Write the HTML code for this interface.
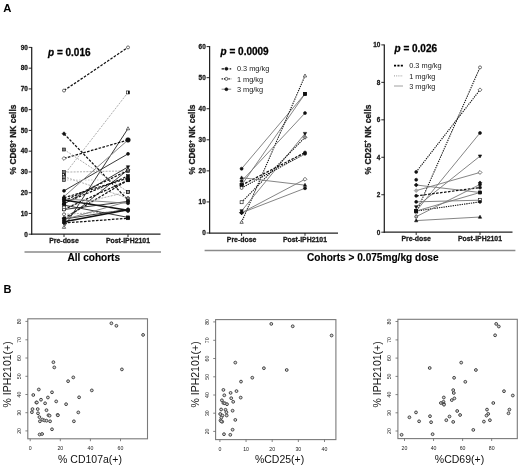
<!DOCTYPE html>
<html><head><meta charset="utf-8"><style>
html,body{margin:0;padding:0;background:#fff;}
svg{display:block;font-family:"Liberation Sans", sans-serif;filter:grayscale(1);}
text.b{stroke:#111;stroke-width:0.28;paint-order:stroke;}
text.b2{stroke:#111;stroke-width:0.15;paint-order:stroke;}
</style></head><body>
<svg width="520" height="471" viewBox="0 0 520 471">
<rect width="520" height="471" fill="#fff"/>
<text transform="translate(3.2,12.3) scale(1.0,1)" font-size="11.3" font-weight="bold" fill="#000">A</text>
<text transform="translate(3.4,293.2) scale(1.05,1)" font-size="10.5" font-weight="bold" fill="#000">B</text>
<line x1="31.70" y1="46.90" x2="31.70" y2="234.70" stroke="#222" stroke-width="1.25" />
<line x1="31.20" y1="234.20" x2="160.50" y2="234.20" stroke="#222" stroke-width="1.25" />
<line x1="28.70" y1="234.20" x2="31.70" y2="234.20" stroke="#111" stroke-width="0.9" />
<text x="27.80" y="236.50" font-size="6.4" font-weight="bold" font-style="normal" text-anchor="end" fill="#1a1a1a"  class="b">0</text>
<line x1="28.70" y1="213.44" x2="31.70" y2="213.44" stroke="#111" stroke-width="0.9" />
<text x="27.80" y="215.74" font-size="6.4" font-weight="bold" font-style="normal" text-anchor="end" fill="#1a1a1a"  class="b">10</text>
<line x1="28.70" y1="192.69" x2="31.70" y2="192.69" stroke="#111" stroke-width="0.9" />
<text x="27.80" y="194.99" font-size="6.4" font-weight="bold" font-style="normal" text-anchor="end" fill="#1a1a1a"  class="b">20</text>
<line x1="28.70" y1="171.93" x2="31.70" y2="171.93" stroke="#111" stroke-width="0.9" />
<text x="27.80" y="174.23" font-size="6.4" font-weight="bold" font-style="normal" text-anchor="end" fill="#1a1a1a"  class="b">30</text>
<line x1="28.70" y1="151.18" x2="31.70" y2="151.18" stroke="#111" stroke-width="0.9" />
<text x="27.80" y="153.48" font-size="6.4" font-weight="bold" font-style="normal" text-anchor="end" fill="#1a1a1a"  class="b">40</text>
<line x1="28.70" y1="130.42" x2="31.70" y2="130.42" stroke="#111" stroke-width="0.9" />
<text x="27.80" y="132.72" font-size="6.4" font-weight="bold" font-style="normal" text-anchor="end" fill="#1a1a1a"  class="b">50</text>
<line x1="28.70" y1="109.67" x2="31.70" y2="109.67" stroke="#111" stroke-width="0.9" />
<text x="27.80" y="111.97" font-size="6.4" font-weight="bold" font-style="normal" text-anchor="end" fill="#1a1a1a"  class="b">60</text>
<line x1="28.70" y1="88.91" x2="31.70" y2="88.91" stroke="#111" stroke-width="0.9" />
<text x="27.80" y="91.21" font-size="6.4" font-weight="bold" font-style="normal" text-anchor="end" fill="#1a1a1a"  class="b">70</text>
<line x1="28.70" y1="68.16" x2="31.70" y2="68.16" stroke="#111" stroke-width="0.9" />
<text x="27.80" y="70.46" font-size="6.4" font-weight="bold" font-style="normal" text-anchor="end" fill="#1a1a1a"  class="b">80</text>
<line x1="28.70" y1="47.40" x2="31.70" y2="47.40" stroke="#111" stroke-width="0.9" />
<text x="27.80" y="49.70" font-size="6.4" font-weight="bold" font-style="normal" text-anchor="end" fill="#1a1a1a"  class="b">90</text>
<line x1="64.00" y1="234.20" x2="64.00" y2="237.00" stroke="#111" stroke-width="0.9" />
<line x1="128.00" y1="234.20" x2="128.00" y2="237.00" stroke="#111" stroke-width="0.9" />
<text x="64.00" y="243.45" font-size="6.9" font-weight="bold" font-style="normal" text-anchor="middle" fill="#1a1a1a"  class="b">Pre-dose</text>
<text x="128.00" y="243.45" font-size="6.9" font-weight="bold" font-style="normal" text-anchor="middle" fill="#1a1a1a"  class="b">Post-IPH2101</text>
<text transform="translate(16.40,139.5) rotate(-90) scale(0.955,1)" class="b" font-size="8.8" font-weight="bold" text-anchor="middle" fill="#1a1a1a">% CD69<tspan font-size="5.6" dy="-3.2">+</tspan><tspan dy="3.2"> NK cells</tspan></text>
<text x="48.00" y="55.60" class="b" font-size="10" font-weight="bold" fill="#000"><tspan font-style="italic">p</tspan> = 0.016</text>
<line x1="209.60" y1="46.10" x2="209.60" y2="233.50" stroke="#222" stroke-width="1.25" />
<line x1="209.10" y1="233.00" x2="338.00" y2="233.00" stroke="#222" stroke-width="1.25" />
<line x1="206.60" y1="233.00" x2="209.60" y2="233.00" stroke="#111" stroke-width="0.9" />
<text x="205.70" y="235.30" font-size="6.4" font-weight="bold" font-style="normal" text-anchor="end" fill="#1a1a1a"  class="b">0</text>
<line x1="206.60" y1="201.93" x2="209.60" y2="201.93" stroke="#111" stroke-width="0.9" />
<text x="205.70" y="204.23" font-size="6.4" font-weight="bold" font-style="normal" text-anchor="end" fill="#1a1a1a"  class="b">10</text>
<line x1="206.60" y1="170.87" x2="209.60" y2="170.87" stroke="#111" stroke-width="0.9" />
<text x="205.70" y="173.17" font-size="6.4" font-weight="bold" font-style="normal" text-anchor="end" fill="#1a1a1a"  class="b">20</text>
<line x1="206.60" y1="139.80" x2="209.60" y2="139.80" stroke="#111" stroke-width="0.9" />
<text x="205.70" y="142.10" font-size="6.4" font-weight="bold" font-style="normal" text-anchor="end" fill="#1a1a1a"  class="b">30</text>
<line x1="206.60" y1="108.73" x2="209.60" y2="108.73" stroke="#111" stroke-width="0.9" />
<text x="205.70" y="111.03" font-size="6.4" font-weight="bold" font-style="normal" text-anchor="end" fill="#1a1a1a"  class="b">40</text>
<line x1="206.60" y1="77.67" x2="209.60" y2="77.67" stroke="#111" stroke-width="0.9" />
<text x="205.70" y="79.97" font-size="6.4" font-weight="bold" font-style="normal" text-anchor="end" fill="#1a1a1a"  class="b">50</text>
<line x1="206.60" y1="46.60" x2="209.60" y2="46.60" stroke="#111" stroke-width="0.9" />
<text x="205.70" y="48.90" font-size="6.4" font-weight="bold" font-style="normal" text-anchor="end" fill="#1a1a1a"  class="b">60</text>
<line x1="241.60" y1="233.00" x2="241.60" y2="235.80" stroke="#111" stroke-width="0.9" />
<line x1="305.00" y1="233.00" x2="305.00" y2="235.80" stroke="#111" stroke-width="0.9" />
<text x="241.60" y="242.25" font-size="6.9" font-weight="bold" font-style="normal" text-anchor="middle" fill="#1a1a1a"  class="b">Pre-dose</text>
<text x="305.00" y="242.25" font-size="6.9" font-weight="bold" font-style="normal" text-anchor="middle" fill="#1a1a1a"  class="b">Post-IPH2101</text>
<text transform="translate(195.30,139.5) rotate(-90) scale(0.955,1)" class="b" font-size="8.8" font-weight="bold" text-anchor="middle" fill="#1a1a1a">% CD69<tspan font-size="5.6" dy="-3.2">+</tspan><tspan dy="3.2"> NK cells</tspan></text>
<text x="220.60" y="54.60" class="b" font-size="10" font-weight="bold" fill="#000"><tspan font-style="italic">p</tspan> = 0.0009</text>
<line x1="384.30" y1="44.40" x2="384.30" y2="232.70" stroke="#222" stroke-width="1.25" />
<line x1="383.80" y1="232.20" x2="512.50" y2="232.20" stroke="#222" stroke-width="1.25" />
<line x1="381.30" y1="232.20" x2="384.30" y2="232.20" stroke="#111" stroke-width="0.9" />
<text x="380.40" y="234.50" font-size="6.4" font-weight="bold" font-style="normal" text-anchor="end" fill="#1a1a1a"  class="b">0</text>
<line x1="381.30" y1="194.74" x2="384.30" y2="194.74" stroke="#111" stroke-width="0.9" />
<text x="380.40" y="197.04" font-size="6.4" font-weight="bold" font-style="normal" text-anchor="end" fill="#1a1a1a"  class="b">2</text>
<line x1="381.30" y1="157.28" x2="384.30" y2="157.28" stroke="#111" stroke-width="0.9" />
<text x="380.40" y="159.58" font-size="6.4" font-weight="bold" font-style="normal" text-anchor="end" fill="#1a1a1a"  class="b">4</text>
<line x1="381.30" y1="119.82" x2="384.30" y2="119.82" stroke="#111" stroke-width="0.9" />
<text x="380.40" y="122.12" font-size="6.4" font-weight="bold" font-style="normal" text-anchor="end" fill="#1a1a1a"  class="b">6</text>
<line x1="381.30" y1="82.36" x2="384.30" y2="82.36" stroke="#111" stroke-width="0.9" />
<text x="380.40" y="84.66" font-size="6.4" font-weight="bold" font-style="normal" text-anchor="end" fill="#1a1a1a"  class="b">8</text>
<line x1="381.30" y1="44.90" x2="384.30" y2="44.90" stroke="#111" stroke-width="0.9" />
<text x="380.40" y="47.20" font-size="6.4" font-weight="bold" font-style="normal" text-anchor="end" fill="#1a1a1a"  class="b">10</text>
<line x1="416.20" y1="232.20" x2="416.20" y2="235.00" stroke="#111" stroke-width="0.9" />
<line x1="480.00" y1="232.20" x2="480.00" y2="235.00" stroke="#111" stroke-width="0.9" />
<text x="416.20" y="241.45" font-size="6.9" font-weight="bold" font-style="normal" text-anchor="middle" fill="#1a1a1a"  class="b">Pre-dose</text>
<text x="480.00" y="241.45" font-size="6.9" font-weight="bold" font-style="normal" text-anchor="middle" fill="#1a1a1a"  class="b">Post-IPH2101</text>
<text transform="translate(370.60,139.5) rotate(-90) scale(0.955,1)" class="b" font-size="8.8" font-weight="bold" text-anchor="middle" fill="#1a1a1a">% CD25<tspan font-size="5.6" dy="-3.2">+</tspan><tspan dy="3.2"> NK cells</tspan></text>
<text x="394.50" y="52.40" class="b" font-size="10" font-weight="bold" fill="#000"><tspan font-style="italic">p</tspan> = 0.026</text>
<line x1="24.50" y1="251.90" x2="161.00" y2="251.90" stroke="#8a8a8a" stroke-width="1.5" />
<text x="93.80" y="261.00" font-size="10.05" font-weight="bold" font-style="normal" text-anchor="middle" fill="#000" class="b2">All cohorts</text>
<line x1="204.60" y1="250.60" x2="515.40" y2="250.60" stroke="#8a8a8a" stroke-width="1.5" />
<text x="372.80" y="261.20" font-size="10.1" font-weight="bold" font-style="normal" text-anchor="middle" fill="#000" class="b2">Cohorts &gt; 0.075mg/kg dose</text>
<line x1="64.00" y1="90.57" x2="128.00" y2="47.40" stroke="#111" stroke-width="1.25" stroke-dasharray="2.6,1.4" />
<line x1="64.00" y1="175.05" x2="128.00" y2="92.44" stroke="#999" stroke-width="0.8" stroke-dasharray="2,1.2" />
<line x1="64.00" y1="227.14" x2="128.00" y2="128.55" stroke="#222" stroke-width="0.9" />
<line x1="64.00" y1="133.74" x2="128.00" y2="199.95" stroke="#111" stroke-width="1.25" stroke-dasharray="2.6,1.4" />
<line x1="64.00" y1="158.44" x2="128.00" y2="139.97" stroke="#111" stroke-width="1.25" stroke-dasharray="2.6,1.4" />
<line x1="64.00" y1="149.52" x2="128.00" y2="191.86" stroke="#999" stroke-width="0.8" stroke-dasharray="2,1.2" />
<line x1="64.00" y1="190.82" x2="128.00" y2="153.87" stroke="#222" stroke-width="0.9" />
<line x1="64.00" y1="196.63" x2="128.00" y2="139.97" stroke="#777" stroke-width="0.9" />
<line x1="64.00" y1="222.99" x2="128.00" y2="218.22" stroke="#111" stroke-width="1.25" stroke-dasharray="2.6,1.4" />
<line x1="64.00" y1="199.95" x2="128.00" y2="210.33" stroke="#111" stroke-width="1.6" />
<line x1="64.00" y1="200.99" x2="128.00" y2="170.48" stroke="#111" stroke-width="1.25" stroke-dasharray="2.6,1.4" />
<line x1="64.00" y1="203.07" x2="128.00" y2="176.08" stroke="#111" stroke-width="1.25" stroke-dasharray="2.6,1.4" />
<line x1="64.00" y1="209.50" x2="128.00" y2="201.41" stroke="#222" stroke-width="0.9" />
<line x1="64.00" y1="219.05" x2="128.00" y2="209.29" stroke="#222" stroke-width="0.9" />
<line x1="64.00" y1="172.14" x2="128.00" y2="170.89" stroke="#999" stroke-width="0.8" stroke-dasharray="2,1.2" />
<line x1="64.00" y1="176.71" x2="128.00" y2="198.08" stroke="#999" stroke-width="0.8" stroke-dasharray="2,1.2" />
<line x1="64.00" y1="204.10" x2="128.00" y2="166.95" stroke="#222" stroke-width="0.9" />
<line x1="64.00" y1="218.22" x2="128.00" y2="180.23" stroke="#111" stroke-width="1.25" stroke-dasharray="2.6,1.4" />
<line x1="64.00" y1="220.71" x2="128.00" y2="169.86" stroke="#222" stroke-width="0.9" />
<line x1="64.00" y1="209.29" x2="128.00" y2="180.23" stroke="#111" stroke-width="1.25" stroke-dasharray="2.6,1.4" />
<line x1="64.00" y1="198.91" x2="128.00" y2="203.27" stroke="#777" stroke-width="0.9" />
<line x1="64.00" y1="214.27" x2="128.00" y2="210.95" stroke="#999" stroke-width="0.8" stroke-dasharray="2,1.2" />
<line x1="64.00" y1="205.14" x2="128.00" y2="217.39" stroke="#222" stroke-width="0.9" />
<line x1="64.00" y1="219.67" x2="128.00" y2="201.41" stroke="#777" stroke-width="0.9" />
<line x1="64.00" y1="180.03" x2="128.00" y2="180.03" stroke="#bbb" stroke-width="0.7" stroke-dasharray="1.5,1.5" />
<line x1="64.00" y1="221.75" x2="128.00" y2="209.71" stroke="#111" stroke-width="1.6" />
<line x1="64.00" y1="197.88" x2="128.00" y2="178.16" stroke="#111" stroke-width="1.25" stroke-dasharray="2.6,1.4" />
<line x1="64.00" y1="207.22" x2="128.00" y2="191.86" stroke="#999" stroke-width="0.8" stroke-dasharray="2,1.2" />
<line x1="241.60" y1="168.69" x2="305.00" y2="93.81" stroke="#777" stroke-width="0.9" />
<line x1="241.60" y1="185.15" x2="305.00" y2="93.81" stroke="#777" stroke-width="0.9" />
<line x1="241.60" y1="222.13" x2="305.00" y2="75.79" stroke="#111" stroke-width="1.1" stroke-dasharray="1.3,1.0" />
<line x1="241.60" y1="181.11" x2="305.00" y2="113.07" stroke="#777" stroke-width="0.9" />
<line x1="241.60" y1="210.94" x2="305.00" y2="133.58" stroke="#777" stroke-width="0.9" />
<line x1="241.60" y1="202.24" x2="305.00" y2="137.30" stroke="#111" stroke-width="1.1" stroke-dasharray="1.3,1.0" />
<line x1="241.60" y1="185.15" x2="305.00" y2="152.53" stroke="#111" stroke-width="1.25" stroke-dasharray="2.6,1.4" />
<line x1="241.60" y1="187.95" x2="305.00" y2="153.77" stroke="#111" stroke-width="1.1" stroke-dasharray="1.3,1.0" />
<line x1="241.60" y1="177.70" x2="305.00" y2="185.15" stroke="#777" stroke-width="0.9" />
<line x1="241.60" y1="212.80" x2="305.00" y2="179.25" stroke="#777" stroke-width="0.9" />
<line x1="241.60" y1="212.80" x2="305.00" y2="188.26" stroke="#777" stroke-width="0.9" />
<line x1="416.20" y1="171.89" x2="480.00" y2="89.85" stroke="#111" stroke-width="1.1" stroke-dasharray="1.3,1.0" />
<line x1="416.20" y1="212.53" x2="480.00" y2="67.38" stroke="#111" stroke-width="1.1" stroke-dasharray="1.3,1.0" />
<line x1="416.20" y1="211.04" x2="480.00" y2="132.93" stroke="#777" stroke-width="0.9" />
<line x1="416.20" y1="206.91" x2="480.00" y2="156.16" stroke="#777" stroke-width="0.9" />
<line x1="416.20" y1="190.62" x2="480.00" y2="172.45" stroke="#777" stroke-width="0.9" />
<line x1="416.20" y1="185.00" x2="480.00" y2="192.49" stroke="#777" stroke-width="0.9" />
<line x1="416.20" y1="195.86" x2="480.00" y2="187.62" stroke="#111" stroke-width="1.25" stroke-dasharray="2.6,1.4" />
<line x1="416.20" y1="201.86" x2="480.00" y2="200.17" stroke="#777" stroke-width="0.9" />
<line x1="416.20" y1="211.04" x2="480.00" y2="201.86" stroke="#111" stroke-width="1.1" stroke-dasharray="1.3,1.0" />
<line x1="416.20" y1="220.59" x2="480.00" y2="217.03" stroke="#777" stroke-width="0.9" />
<line x1="416.20" y1="211.04" x2="480.00" y2="192.49" stroke="#777" stroke-width="0.9" />
<line x1="416.20" y1="216.65" x2="480.00" y2="184.44" stroke="#777" stroke-width="0.9" />
<circle cx="64.00" cy="90.57" r="1.50" fill="#fff" stroke="#111" stroke-width="0.6"/>
<circle cx="128.00" cy="47.40" r="1.50" fill="#fff" stroke="#111" stroke-width="0.6"/>
<rect x="62.50" y="173.55" width="3.00" height="3.00" fill="#fff" stroke="#111" stroke-width="0.6"/>
<rect x="64.00" y="173.55" width="1.50" height="3.00" fill="#111"/>
<rect x="126.50" y="90.94" width="3.00" height="3.00" fill="#fff" stroke="#111" stroke-width="0.6"/>
<rect x="128.00" y="90.94" width="1.50" height="3.00" fill="#111"/>
<path d="M64.00,225.34L65.65,228.34L62.35,228.34Z" fill="#fff" stroke="#111" stroke-width="0.6"/>
<path d="M128.00,126.75L129.65,129.75L126.35,129.75Z" fill="#fff" stroke="#111" stroke-width="0.6"/>
<path d="M64.00,131.79L65.95,133.74L64.00,135.69L62.05,133.74Z" fill="#111" stroke="#111" stroke-width="0.6"/>
<circle cx="128.00" cy="199.95" r="1.50" fill="#111" stroke="#111" stroke-width="0.6"/>
<path d="M64.00,156.49L65.95,158.44L64.00,160.39L62.05,158.44Z" fill="#fff" stroke="#111" stroke-width="0.6"/>
<circle cx="128.00" cy="139.97" r="1.50" fill="#111" stroke="#111" stroke-width="0.6"/>
<rect x="62.50" y="148.02" width="3.00" height="3.00" fill="#777" stroke="#111" stroke-width="0.6"/>
<rect x="126.50" y="190.36" width="3.00" height="3.00" fill="#999" stroke="#111" stroke-width="0.6"/>
<circle cx="64.00" cy="190.82" r="1.50" fill="#111" stroke="#111" stroke-width="0.6"/>
<circle cx="128.00" cy="153.87" r="1.50" fill="#111" stroke="#111" stroke-width="0.6"/>
<path d="M64.00,194.83L65.65,197.83L62.35,197.83Z" fill="#111" stroke="#111" stroke-width="0.6"/>
<circle cx="128.00" cy="139.97" r="1.50" fill="#111" stroke="#111" stroke-width="0.6"/>
<path d="M64.00,221.04L65.95,222.99L64.00,224.94L62.05,222.99Z" fill="#111" stroke="#111" stroke-width="0.6"/>
<rect x="126.50" y="216.72" width="3.00" height="3.00" fill="#111" stroke="#111" stroke-width="0.6"/>
<circle cx="64.00" cy="199.95" r="1.50" fill="#111" stroke="#111" stroke-width="0.6"/>
<circle cx="128.00" cy="210.33" r="1.50" fill="#111" stroke="#111" stroke-width="0.6"/>
<path d="M64.00,202.79L65.65,199.79L62.35,199.79Z" fill="#111" stroke="#111" stroke-width="0.6"/>
<path d="M128.00,172.28L129.65,169.28L126.35,169.28Z" fill="#111" stroke="#111" stroke-width="0.6"/>
<rect x="62.50" y="201.57" width="3.00" height="3.00" fill="#111" stroke="#111" stroke-width="0.6"/>
<rect x="126.50" y="174.58" width="3.00" height="3.00" fill="#111" stroke="#111" stroke-width="0.6"/>
<circle cx="64.00" cy="209.50" r="1.50" fill="#111" stroke="#111" stroke-width="0.6"/>
<circle cx="128.00" cy="201.41" r="1.50" fill="#111" stroke="#111" stroke-width="0.6"/>
<path d="M64.00,220.85L65.65,217.85L62.35,217.85Z" fill="#111" stroke="#111" stroke-width="0.6"/>
<circle cx="128.00" cy="209.29" r="1.50" fill="#111" stroke="#111" stroke-width="0.6"/>
<rect x="62.50" y="170.64" width="3.00" height="3.00" fill="#777" stroke="#111" stroke-width="0.6"/>
<rect x="126.50" y="169.39" width="3.00" height="3.00" fill="#777" stroke="#111" stroke-width="0.6"/>
<rect x="62.50" y="175.21" width="3.00" height="3.00" fill="#999" stroke="#111" stroke-width="0.6"/>
<circle cx="128.00" cy="198.08" r="1.50" fill="#999" stroke="#111" stroke-width="0.6"/>
<path d="M64.00,202.15L65.95,204.10L64.00,206.05L62.05,204.10Z" fill="#111" stroke="#111" stroke-width="0.6"/>
<path d="M128.00,168.75L129.65,165.75L126.35,165.75Z" fill="#111" stroke="#111" stroke-width="0.6"/>
<path d="M64.00,216.27L65.95,218.22L64.00,220.17L62.05,218.22Z" fill="#111" stroke="#111" stroke-width="0.6"/>
<rect x="126.50" y="178.73" width="3.00" height="3.00" fill="#111" stroke="#111" stroke-width="0.6"/>
<circle cx="64.00" cy="220.71" r="1.50" fill="#111" stroke="#111" stroke-width="0.6"/>
<path d="M128.00,167.91L129.95,169.86L128.00,171.81L126.05,169.86Z" fill="#777" stroke="#111" stroke-width="0.6"/>
<rect x="62.50" y="207.79" width="3.00" height="3.00" fill="#fff" stroke="#111" stroke-width="0.6"/>
<rect x="126.50" y="178.73" width="3.00" height="3.00" fill="#111" stroke="#111" stroke-width="0.6"/>
<circle cx="64.00" cy="198.91" r="1.50" fill="#111" stroke="#111" stroke-width="0.6"/>
<circle cx="128.00" cy="203.27" r="1.50" fill="#111" stroke="#111" stroke-width="0.6"/>
<circle cx="64.00" cy="214.27" r="1.50" fill="#fff" stroke="#111" stroke-width="0.6"/>
<circle cx="128.00" cy="210.95" r="1.50" fill="#111" stroke="#111" stroke-width="0.6"/>
<rect x="62.50" y="203.64" width="3.00" height="3.00" fill="#111" stroke="#111" stroke-width="0.6"/>
<rect x="126.50" y="215.89" width="3.00" height="3.00" fill="#111" stroke="#111" stroke-width="0.6"/>
<circle cx="64.00" cy="219.67" r="1.50" fill="#111" stroke="#111" stroke-width="0.6"/>
<circle cx="128.00" cy="201.41" r="1.50" fill="#111" stroke="#111" stroke-width="0.6"/>
<rect x="62.50" y="178.53" width="3.00" height="3.00" fill="#999" stroke="#111" stroke-width="0.6"/>
<circle cx="128.00" cy="180.03" r="1.50" fill="#111" stroke="#111" stroke-width="0.6"/>
<circle cx="64.00" cy="221.75" r="1.50" fill="#111" stroke="#111" stroke-width="0.6"/>
<circle cx="128.00" cy="209.71" r="1.50" fill="#111" stroke="#111" stroke-width="0.6"/>
<circle cx="64.00" cy="197.88" r="1.50" fill="#111" stroke="#111" stroke-width="0.6"/>
<circle cx="128.00" cy="178.16" r="1.50" fill="#111" stroke="#111" stroke-width="0.6"/>
<circle cx="64.00" cy="207.22" r="1.50" fill="#fff" stroke="#111" stroke-width="0.6"/>
<rect x="126.50" y="190.36" width="3.00" height="3.00" fill="#999" stroke="#111" stroke-width="0.6"/>
<circle cx="128.00" cy="139.97" r="2.30" fill="#111" stroke="#111" stroke-width="0.6"/>
<circle cx="241.60" cy="168.69" r="1.50" fill="#111" stroke="#111" stroke-width="0.6"/>
<rect x="303.50" y="92.31" width="3.00" height="3.00" fill="#111" stroke="#111" stroke-width="0.6"/>
<rect x="240.10" y="183.65" width="3.00" height="3.00" fill="#111" stroke="#111" stroke-width="0.6"/>
<rect x="303.50" y="92.31" width="3.00" height="3.00" fill="#111" stroke="#111" stroke-width="0.6"/>
<path d="M241.60,220.33L243.25,223.33L239.95,223.33Z" fill="#fff" stroke="#111" stroke-width="0.6"/>
<path d="M305.00,73.99L306.65,76.99L303.35,76.99Z" fill="#fff" stroke="#111" stroke-width="0.6"/>
<circle cx="241.60" cy="181.11" r="1.50" fill="#111" stroke="#111" stroke-width="0.6"/>
<circle cx="305.00" cy="113.07" r="1.50" fill="#111" stroke="#111" stroke-width="0.6"/>
<path d="M241.60,212.74L243.25,209.74L239.95,209.74Z" fill="#111" stroke="#111" stroke-width="0.6"/>
<path d="M305.00,135.38L306.65,132.38L303.35,132.38Z" fill="#111" stroke="#111" stroke-width="0.6"/>
<rect x="240.10" y="200.74" width="3.00" height="3.00" fill="#fff" stroke="#111" stroke-width="0.6"/>
<path d="M305.00,135.35L306.95,137.30L305.00,139.25L303.05,137.30Z" fill="#999" stroke="#111" stroke-width="0.6"/>
<rect x="240.10" y="183.65" width="3.00" height="3.00" fill="#111" stroke="#111" stroke-width="0.6"/>
<circle cx="305.00" cy="152.53" r="1.50" fill="#111" stroke="#111" stroke-width="0.6"/>
<circle cx="241.60" cy="187.95" r="1.50" fill="#fff" stroke="#111" stroke-width="0.6"/>
<circle cx="305.00" cy="153.77" r="1.50" fill="#111" stroke="#111" stroke-width="0.6"/>
<path d="M241.60,175.90L243.25,178.90L239.95,178.90Z" fill="#111" stroke="#111" stroke-width="0.6"/>
<path d="M305.00,183.35L306.65,186.35L303.35,186.35Z" fill="#111" stroke="#111" stroke-width="0.6"/>
<path d="M241.60,210.85L243.55,212.80L241.60,214.75L239.65,212.80Z" fill="#111" stroke="#111" stroke-width="0.6"/>
<path d="M305.00,177.30L306.95,179.25L305.00,181.20L303.05,179.25Z" fill="#fff" stroke="#111" stroke-width="0.6"/>
<path d="M241.60,210.85L243.55,212.80L241.60,214.75L239.65,212.80Z" fill="#111" stroke="#111" stroke-width="0.6"/>
<circle cx="305.00" cy="188.26" r="1.50" fill="#111" stroke="#111" stroke-width="0.6"/>
<circle cx="416.20" cy="171.89" r="1.50" fill="#111" stroke="#111" stroke-width="0.6"/>
<path d="M480.00,87.90L481.95,89.85L480.00,91.80L478.05,89.85Z" fill="#fff" stroke="#111" stroke-width="0.6"/>
<circle cx="416.20" cy="212.53" r="1.50" fill="#fff" stroke="#111" stroke-width="0.6"/>
<circle cx="480.00" cy="67.38" r="1.50" fill="#fff" stroke="#111" stroke-width="0.6"/>
<rect x="414.70" y="209.54" width="3.00" height="3.00" fill="#111" stroke="#111" stroke-width="0.6"/>
<circle cx="480.00" cy="132.93" r="1.50" fill="#111" stroke="#111" stroke-width="0.6"/>
<path d="M416.20,208.71L417.85,205.71L414.55,205.71Z" fill="#111" stroke="#111" stroke-width="0.6"/>
<path d="M480.00,157.96L481.65,154.96L478.35,154.96Z" fill="#111" stroke="#111" stroke-width="0.6"/>
<path d="M416.20,188.67L418.15,190.62L416.20,192.57L414.25,190.62Z" fill="#aaa" stroke="#888" stroke-width="0.6"/>
<path d="M480.00,170.50L481.95,172.45L480.00,174.40L478.05,172.45Z" fill="#fff" stroke="#111" stroke-width="0.6"/>
<path d="M416.20,183.05L418.15,185.00L416.20,186.95L414.25,185.00Z" fill="#111" stroke="#111" stroke-width="0.6"/>
<circle cx="480.00" cy="192.49" r="1.50" fill="#111" stroke="#111" stroke-width="0.6"/>
<circle cx="416.20" cy="195.86" r="1.50" fill="#111" stroke="#111" stroke-width="0.6"/>
<circle cx="480.00" cy="187.62" r="1.50" fill="#111" stroke="#111" stroke-width="0.6"/>
<circle cx="416.20" cy="201.86" r="1.50" fill="#111" stroke="#111" stroke-width="0.6"/>
<rect x="478.50" y="198.67" width="3.00" height="3.00" fill="#fff" stroke="#111" stroke-width="0.6"/>
<rect x="414.70" y="209.54" width="3.00" height="3.00" fill="#111" stroke="#111" stroke-width="0.6"/>
<circle cx="480.00" cy="201.86" r="1.50" fill="#111" stroke="#111" stroke-width="0.6"/>
<path d="M416.20,218.79L417.85,221.79L414.55,221.79Z" fill="#111" stroke="#111" stroke-width="0.6"/>
<path d="M480.00,215.23L481.65,218.23L478.35,218.23Z" fill="#111" stroke="#111" stroke-width="0.6"/>
<rect x="414.70" y="209.54" width="3.00" height="3.00" fill="#111" stroke="#111" stroke-width="0.6"/>
<rect x="478.50" y="190.99" width="3.00" height="3.00" fill="#111" stroke="#111" stroke-width="0.6"/>
<circle cx="416.20" cy="216.65" r="1.50" fill="#bbb" stroke="#111" stroke-width="0.6"/>
<circle cx="480.00" cy="184.44" r="1.50" fill="#111" stroke="#111" stroke-width="0.6"/>
<circle cx="416.20" cy="179.76" r="1.50" fill="#111" stroke="#111" stroke-width="0.6"/>
<path d="M480.00,180.93L481.82,182.75L480.00,184.57L478.18,182.75Z" fill="#111" stroke="#111" stroke-width="0.6"/>
<line x1="221.60" y1="68.80" x2="231.20" y2="68.80" stroke="#111" stroke-width="1.25" stroke-dasharray="2.6,1.4" />
<circle cx="226.40" cy="68.80" r="1.50" fill="#111" stroke="#111" stroke-width="0.6"/>
<text x="236.90" y="71.40" font-size="7.4" font-weight="normal" font-style="normal" text-anchor="start" fill="#1a1a1a" >0.3 mg/kg</text>
<line x1="221.60" y1="78.90" x2="231.20" y2="78.90" stroke="#111" stroke-width="1.1" stroke-dasharray="1.3,1.0" />
<circle cx="226.40" cy="78.90" r="1.50" fill="#fff" stroke="#111" stroke-width="0.6"/>
<text x="236.90" y="81.50" font-size="7.4" font-weight="normal" font-style="normal" text-anchor="start" fill="#1a1a1a" >1 mg/kg</text>
<line x1="221.60" y1="89.20" x2="231.20" y2="89.20" stroke="#777" stroke-width="0.9" />
<circle cx="226.40" cy="89.20" r="1.50" fill="#111" stroke="#111" stroke-width="0.6"/>
<text x="236.90" y="91.80" font-size="7.4" font-weight="normal" font-style="normal" text-anchor="start" fill="#1a1a1a" >3 mg/kg</text>
<line x1="394.00" y1="65.70" x2="403.00" y2="65.70" stroke="#000" stroke-width="1.7" stroke-dasharray="2.1,1.3" />
<text x="409.20" y="68.30" font-size="7.4" font-weight="normal" font-style="normal" text-anchor="start" fill="#1a1a1a" >0.3 mg/kg</text>
<line x1="394.00" y1="75.90" x2="403.00" y2="75.90" stroke="#888" stroke-width="0.9" stroke-dasharray="1,1.2" />
<text x="409.20" y="78.50" font-size="7.4" font-weight="normal" font-style="normal" text-anchor="start" fill="#1a1a1a" >1 mg/kg</text>
<line x1="394.00" y1="86.00" x2="403.00" y2="86.00" stroke="#888" stroke-width="0.8" />
<text x="409.20" y="88.60" font-size="7.4" font-weight="normal" font-style="normal" text-anchor="start" fill="#1a1a1a" >3 mg/kg</text>
<rect x="27.80" y="318.80" width="119.70" height="120.00" fill="none" stroke="#7a7a7a" stroke-width="1.1"/>
<line x1="25.40" y1="321.40" x2="27.80" y2="321.40" stroke="#666" stroke-width="0.8" />
<text transform="translate(20.90,321.40) rotate(-90)" font-size="5.2" text-anchor="middle" fill="#222">80</text>
<line x1="25.40" y1="339.80" x2="27.80" y2="339.80" stroke="#666" stroke-width="0.8" />
<text transform="translate(20.90,339.80) rotate(-90)" font-size="5.2" text-anchor="middle" fill="#222">70</text>
<line x1="25.40" y1="358.00" x2="27.80" y2="358.00" stroke="#666" stroke-width="0.8" />
<text transform="translate(20.90,358.00) rotate(-90)" font-size="5.2" text-anchor="middle" fill="#222">60</text>
<line x1="25.40" y1="376.30" x2="27.80" y2="376.30" stroke="#666" stroke-width="0.8" />
<text transform="translate(20.90,376.30) rotate(-90)" font-size="5.2" text-anchor="middle" fill="#222">50</text>
<line x1="25.40" y1="394.50" x2="27.80" y2="394.50" stroke="#666" stroke-width="0.8" />
<text transform="translate(20.90,394.50) rotate(-90)" font-size="5.2" text-anchor="middle" fill="#222">40</text>
<line x1="25.40" y1="412.70" x2="27.80" y2="412.70" stroke="#666" stroke-width="0.8" />
<text transform="translate(20.90,412.70) rotate(-90)" font-size="5.2" text-anchor="middle" fill="#222">30</text>
<line x1="25.40" y1="430.90" x2="27.80" y2="430.90" stroke="#666" stroke-width="0.8" />
<text transform="translate(20.90,430.90) rotate(-90)" font-size="5.2" text-anchor="middle" fill="#222">20</text>
<line x1="30.20" y1="438.80" x2="30.20" y2="441.20" stroke="#666" stroke-width="0.8" />
<text x="30.20" y="449.80" font-size="5.2" font-weight="normal" font-style="normal" text-anchor="middle" fill="#222" >0</text>
<line x1="60.30" y1="438.80" x2="60.30" y2="441.20" stroke="#666" stroke-width="0.8" />
<text x="60.30" y="449.80" font-size="5.2" font-weight="normal" font-style="normal" text-anchor="middle" fill="#222" >20</text>
<line x1="90.40" y1="438.80" x2="90.40" y2="441.20" stroke="#666" stroke-width="0.8" />
<text x="90.40" y="449.80" font-size="5.2" font-weight="normal" font-style="normal" text-anchor="middle" fill="#222" >40</text>
<line x1="120.50" y1="438.80" x2="120.50" y2="441.20" stroke="#666" stroke-width="0.8" />
<text x="120.50" y="449.80" font-size="5.2" font-weight="normal" font-style="normal" text-anchor="middle" fill="#222" >60</text>
<circle cx="111.40" cy="323.30" r="1.4" fill="#d8d8d8" stroke="#444" stroke-width="1.0"/>
<circle cx="116.40" cy="325.80" r="1.4" fill="#d8d8d8" stroke="#444" stroke-width="1.0"/>
<circle cx="143.10" cy="334.90" r="1.4" fill="#d8d8d8" stroke="#444" stroke-width="1.0"/>
<circle cx="121.90" cy="369.40" r="1.4" fill="#d8d8d8" stroke="#444" stroke-width="1.0"/>
<circle cx="53.40" cy="362.20" r="1.4" fill="#d8d8d8" stroke="#444" stroke-width="1.0"/>
<circle cx="54.30" cy="367.40" r="1.4" fill="#d8d8d8" stroke="#444" stroke-width="1.0"/>
<circle cx="73.30" cy="377.40" r="1.4" fill="#d8d8d8" stroke="#444" stroke-width="1.0"/>
<circle cx="68.10" cy="381.20" r="1.4" fill="#d8d8d8" stroke="#444" stroke-width="1.0"/>
<circle cx="91.80" cy="390.40" r="1.4" fill="#d8d8d8" stroke="#444" stroke-width="1.0"/>
<circle cx="38.80" cy="389.50" r="1.4" fill="#d8d8d8" stroke="#444" stroke-width="1.0"/>
<circle cx="52.00" cy="392.30" r="1.4" fill="#d8d8d8" stroke="#444" stroke-width="1.0"/>
<circle cx="33.30" cy="395.00" r="1.4" fill="#d8d8d8" stroke="#444" stroke-width="1.0"/>
<circle cx="47.90" cy="397.50" r="1.4" fill="#d8d8d8" stroke="#444" stroke-width="1.0"/>
<circle cx="41.00" cy="399.70" r="1.4" fill="#d8d8d8" stroke="#444" stroke-width="1.0"/>
<circle cx="79.10" cy="397.30" r="1.4" fill="#d8d8d8" stroke="#444" stroke-width="1.0"/>
<circle cx="36.30" cy="402.50" r="1.4" fill="#d8d8d8" stroke="#444" stroke-width="1.0"/>
<circle cx="36.90" cy="402.50" r="1.4" fill="#d8d8d8" stroke="#444" stroke-width="1.0"/>
<circle cx="56.20" cy="401.40" r="1.4" fill="#d8d8d8" stroke="#444" stroke-width="1.0"/>
<circle cx="45.10" cy="403.30" r="1.4" fill="#d8d8d8" stroke="#444" stroke-width="1.0"/>
<circle cx="66.10" cy="404.20" r="1.4" fill="#d8d8d8" stroke="#444" stroke-width="1.0"/>
<circle cx="32.50" cy="409.10" r="1.4" fill="#d8d8d8" stroke="#444" stroke-width="1.0"/>
<circle cx="31.90" cy="412.20" r="1.4" fill="#d8d8d8" stroke="#444" stroke-width="1.0"/>
<circle cx="37.70" cy="409.10" r="1.4" fill="#d8d8d8" stroke="#444" stroke-width="1.0"/>
<circle cx="46.50" cy="410.20" r="1.4" fill="#d8d8d8" stroke="#444" stroke-width="1.0"/>
<circle cx="38.00" cy="413.30" r="1.4" fill="#d8d8d8" stroke="#444" stroke-width="1.0"/>
<circle cx="39.40" cy="417.10" r="1.4" fill="#d8d8d8" stroke="#444" stroke-width="1.0"/>
<circle cx="48.50" cy="415.20" r="1.4" fill="#d8d8d8" stroke="#444" stroke-width="1.0"/>
<circle cx="49.60" cy="415.70" r="1.4" fill="#d8d8d8" stroke="#444" stroke-width="1.0"/>
<circle cx="57.60" cy="414.90" r="1.4" fill="#d8d8d8" stroke="#444" stroke-width="1.0"/>
<circle cx="57.90" cy="415.30" r="1.4" fill="#d8d8d8" stroke="#444" stroke-width="1.0"/>
<circle cx="78.30" cy="412.40" r="1.4" fill="#d8d8d8" stroke="#444" stroke-width="1.0"/>
<circle cx="42.40" cy="419.60" r="1.4" fill="#d8d8d8" stroke="#444" stroke-width="1.0"/>
<circle cx="39.90" cy="421.30" r="1.4" fill="#d8d8d8" stroke="#444" stroke-width="1.0"/>
<circle cx="44.30" cy="420.40" r="1.4" fill="#d8d8d8" stroke="#444" stroke-width="1.0"/>
<circle cx="46.50" cy="420.70" r="1.4" fill="#d8d8d8" stroke="#444" stroke-width="1.0"/>
<circle cx="50.10" cy="421.30" r="1.4" fill="#d8d8d8" stroke="#444" stroke-width="1.0"/>
<circle cx="73.90" cy="421.30" r="1.4" fill="#d8d8d8" stroke="#444" stroke-width="1.0"/>
<circle cx="52.00" cy="429.30" r="1.4" fill="#d8d8d8" stroke="#444" stroke-width="1.0"/>
<circle cx="39.60" cy="434.50" r="1.4" fill="#d8d8d8" stroke="#444" stroke-width="1.0"/>
<circle cx="42.10" cy="434.00" r="1.4" fill="#d8d8d8" stroke="#444" stroke-width="1.0"/>
<text x="90.00" y="463.20" font-size="10.5" font-weight="normal" font-style="normal" text-anchor="middle" fill="#111" >% CD107a(+)</text>
<text transform="translate(10.90,374.4) rotate(-90)" font-size="10.5" text-anchor="middle" fill="#111">% IPH2101(+)</text>
<rect x="215.60" y="319.60" width="120.30" height="120.00" fill="none" stroke="#7a7a7a" stroke-width="1.1"/>
<line x1="213.20" y1="321.90" x2="215.60" y2="321.90" stroke="#666" stroke-width="0.8" />
<text transform="translate(208.70,321.90) rotate(-90)" font-size="5.2" text-anchor="middle" fill="#222">80</text>
<line x1="213.20" y1="340.30" x2="215.60" y2="340.30" stroke="#666" stroke-width="0.8" />
<text transform="translate(208.70,340.30) rotate(-90)" font-size="5.2" text-anchor="middle" fill="#222">70</text>
<line x1="213.20" y1="358.50" x2="215.60" y2="358.50" stroke="#666" stroke-width="0.8" />
<text transform="translate(208.70,358.50) rotate(-90)" font-size="5.2" text-anchor="middle" fill="#222">60</text>
<line x1="213.20" y1="376.80" x2="215.60" y2="376.80" stroke="#666" stroke-width="0.8" />
<text transform="translate(208.70,376.80) rotate(-90)" font-size="5.2" text-anchor="middle" fill="#222">50</text>
<line x1="213.20" y1="395.00" x2="215.60" y2="395.00" stroke="#666" stroke-width="0.8" />
<text transform="translate(208.70,395.00) rotate(-90)" font-size="5.2" text-anchor="middle" fill="#222">40</text>
<line x1="213.20" y1="413.20" x2="215.60" y2="413.20" stroke="#666" stroke-width="0.8" />
<text transform="translate(208.70,413.20) rotate(-90)" font-size="5.2" text-anchor="middle" fill="#222">30</text>
<line x1="213.20" y1="431.40" x2="215.60" y2="431.40" stroke="#666" stroke-width="0.8" />
<text transform="translate(208.70,431.40) rotate(-90)" font-size="5.2" text-anchor="middle" fill="#222">20</text>
<line x1="219.90" y1="439.60" x2="219.90" y2="442.00" stroke="#666" stroke-width="0.8" />
<text x="219.90" y="450.60" font-size="5.2" font-weight="normal" font-style="normal" text-anchor="middle" fill="#222" >0</text>
<line x1="246.05" y1="439.60" x2="246.05" y2="442.00" stroke="#666" stroke-width="0.8" />
<text x="246.05" y="450.60" font-size="5.2" font-weight="normal" font-style="normal" text-anchor="middle" fill="#222" >10</text>
<line x1="272.20" y1="439.60" x2="272.20" y2="442.00" stroke="#666" stroke-width="0.8" />
<text x="272.20" y="450.60" font-size="5.2" font-weight="normal" font-style="normal" text-anchor="middle" fill="#222" >20</text>
<line x1="298.35" y1="439.60" x2="298.35" y2="442.00" stroke="#666" stroke-width="0.8" />
<text x="298.35" y="450.60" font-size="5.2" font-weight="normal" font-style="normal" text-anchor="middle" fill="#222" >30</text>
<line x1="324.50" y1="439.60" x2="324.50" y2="442.00" stroke="#666" stroke-width="0.8" />
<text x="324.50" y="450.60" font-size="5.2" font-weight="normal" font-style="normal" text-anchor="middle" fill="#222" >40</text>
<circle cx="271.30" cy="323.90" r="1.4" fill="#d8d8d8" stroke="#444" stroke-width="1.0"/>
<circle cx="292.70" cy="326.30" r="1.4" fill="#d8d8d8" stroke="#444" stroke-width="1.0"/>
<circle cx="331.60" cy="335.50" r="1.4" fill="#d8d8d8" stroke="#444" stroke-width="1.0"/>
<circle cx="235.30" cy="362.60" r="1.4" fill="#d8d8d8" stroke="#444" stroke-width="1.0"/>
<circle cx="263.90" cy="368.20" r="1.4" fill="#d8d8d8" stroke="#444" stroke-width="1.0"/>
<circle cx="286.70" cy="370.00" r="1.4" fill="#d8d8d8" stroke="#444" stroke-width="1.0"/>
<circle cx="252.30" cy="377.70" r="1.4" fill="#d8d8d8" stroke="#444" stroke-width="1.0"/>
<circle cx="241.00" cy="381.60" r="1.4" fill="#d8d8d8" stroke="#444" stroke-width="1.0"/>
<circle cx="223.40" cy="389.90" r="1.4" fill="#d8d8d8" stroke="#444" stroke-width="1.0"/>
<circle cx="236.50" cy="391.10" r="1.4" fill="#d8d8d8" stroke="#444" stroke-width="1.0"/>
<circle cx="230.60" cy="392.90" r="1.4" fill="#d8d8d8" stroke="#444" stroke-width="1.0"/>
<circle cx="224.30" cy="395.30" r="1.4" fill="#d8d8d8" stroke="#444" stroke-width="1.0"/>
<circle cx="231.20" cy="398.20" r="1.4" fill="#d8d8d8" stroke="#444" stroke-width="1.0"/>
<circle cx="240.70" cy="397.60" r="1.4" fill="#d8d8d8" stroke="#444" stroke-width="1.0"/>
<circle cx="221.90" cy="400.30" r="1.4" fill="#d8d8d8" stroke="#444" stroke-width="1.0"/>
<circle cx="233.20" cy="401.80" r="1.4" fill="#d8d8d8" stroke="#444" stroke-width="1.0"/>
<circle cx="223.40" cy="403.00" r="1.4" fill="#d8d8d8" stroke="#444" stroke-width="1.0"/>
<circle cx="224.90" cy="403.30" r="1.4" fill="#d8d8d8" stroke="#444" stroke-width="1.0"/>
<circle cx="227.00" cy="404.20" r="1.4" fill="#d8d8d8" stroke="#444" stroke-width="1.0"/>
<circle cx="221.10" cy="409.50" r="1.4" fill="#d8d8d8" stroke="#444" stroke-width="1.0"/>
<circle cx="225.50" cy="409.80" r="1.4" fill="#d8d8d8" stroke="#444" stroke-width="1.0"/>
<circle cx="232.60" cy="410.70" r="1.4" fill="#d8d8d8" stroke="#444" stroke-width="1.0"/>
<circle cx="226.40" cy="412.20" r="1.4" fill="#d8d8d8" stroke="#444" stroke-width="1.0"/>
<circle cx="220.20" cy="414.00" r="1.4" fill="#d8d8d8" stroke="#444" stroke-width="1.0"/>
<circle cx="222.50" cy="415.50" r="1.4" fill="#d8d8d8" stroke="#444" stroke-width="1.0"/>
<circle cx="226.70" cy="415.50" r="1.4" fill="#d8d8d8" stroke="#444" stroke-width="1.0"/>
<circle cx="221.30" cy="417.60" r="1.4" fill="#d8d8d8" stroke="#444" stroke-width="1.0"/>
<circle cx="220.50" cy="420.50" r="1.4" fill="#d8d8d8" stroke="#444" stroke-width="1.0"/>
<circle cx="222.20" cy="421.70" r="1.4" fill="#d8d8d8" stroke="#444" stroke-width="1.0"/>
<circle cx="235.30" cy="419.90" r="1.4" fill="#d8d8d8" stroke="#444" stroke-width="1.0"/>
<circle cx="232.60" cy="429.70" r="1.4" fill="#d8d8d8" stroke="#444" stroke-width="1.0"/>
<circle cx="224.00" cy="434.20" r="1.4" fill="#d8d8d8" stroke="#444" stroke-width="1.0"/>
<circle cx="230.30" cy="434.80" r="1.4" fill="#d8d8d8" stroke="#444" stroke-width="1.0"/>
<circle cx="221.30" cy="421.40" r="1.4" fill="#d8d8d8" stroke="#444" stroke-width="1.0"/>
<text x="279.60" y="463.20" font-size="10.5" font-weight="normal" font-style="normal" text-anchor="middle" fill="#111" >%CD25(+)</text>
<text transform="translate(198.70,374.4) rotate(-90)" font-size="10.5" text-anchor="middle" fill="#111">% IPH2101(+)</text>
<rect x="397.90" y="319.30" width="119.40" height="119.30" fill="none" stroke="#7a7a7a" stroke-width="1.1"/>
<line x1="395.50" y1="321.50" x2="397.90" y2="321.50" stroke="#666" stroke-width="0.8" />
<text transform="translate(391.00,321.50) rotate(-90)" font-size="5.2" text-anchor="middle" fill="#222">80</text>
<line x1="395.50" y1="339.90" x2="397.90" y2="339.90" stroke="#666" stroke-width="0.8" />
<text transform="translate(391.00,339.90) rotate(-90)" font-size="5.2" text-anchor="middle" fill="#222">70</text>
<line x1="395.50" y1="358.10" x2="397.90" y2="358.10" stroke="#666" stroke-width="0.8" />
<text transform="translate(391.00,358.10) rotate(-90)" font-size="5.2" text-anchor="middle" fill="#222">60</text>
<line x1="395.50" y1="376.40" x2="397.90" y2="376.40" stroke="#666" stroke-width="0.8" />
<text transform="translate(391.00,376.40) rotate(-90)" font-size="5.2" text-anchor="middle" fill="#222">50</text>
<line x1="395.50" y1="394.60" x2="397.90" y2="394.60" stroke="#666" stroke-width="0.8" />
<text transform="translate(391.00,394.60) rotate(-90)" font-size="5.2" text-anchor="middle" fill="#222">40</text>
<line x1="395.50" y1="412.80" x2="397.90" y2="412.80" stroke="#666" stroke-width="0.8" />
<text transform="translate(391.00,412.80) rotate(-90)" font-size="5.2" text-anchor="middle" fill="#222">30</text>
<line x1="395.50" y1="431.00" x2="397.90" y2="431.00" stroke="#666" stroke-width="0.8" />
<text transform="translate(391.00,431.00) rotate(-90)" font-size="5.2" text-anchor="middle" fill="#222">20</text>
<line x1="404.50" y1="438.60" x2="404.50" y2="441.00" stroke="#666" stroke-width="0.8" />
<text x="404.50" y="449.60" font-size="5.2" font-weight="normal" font-style="normal" text-anchor="middle" fill="#222" >20</text>
<line x1="433.55" y1="438.60" x2="433.55" y2="441.00" stroke="#666" stroke-width="0.8" />
<text x="433.55" y="449.60" font-size="5.2" font-weight="normal" font-style="normal" text-anchor="middle" fill="#222" >40</text>
<line x1="462.60" y1="438.60" x2="462.60" y2="441.00" stroke="#666" stroke-width="0.8" />
<text x="462.60" y="449.60" font-size="5.2" font-weight="normal" font-style="normal" text-anchor="middle" fill="#222" >60</text>
<line x1="491.65" y1="438.60" x2="491.65" y2="441.00" stroke="#666" stroke-width="0.8" />
<text x="491.65" y="449.60" font-size="5.2" font-weight="normal" font-style="normal" text-anchor="middle" fill="#222" >80</text>
<circle cx="496.20" cy="323.90" r="1.4" fill="#d8d8d8" stroke="#444" stroke-width="1.0"/>
<circle cx="498.80" cy="326.50" r="1.4" fill="#d8d8d8" stroke="#444" stroke-width="1.0"/>
<circle cx="495.10" cy="335.30" r="1.4" fill="#d8d8d8" stroke="#444" stroke-width="1.0"/>
<circle cx="429.70" cy="368.00" r="1.4" fill="#d8d8d8" stroke="#444" stroke-width="1.0"/>
<circle cx="461.20" cy="362.60" r="1.4" fill="#d8d8d8" stroke="#444" stroke-width="1.0"/>
<circle cx="475.90" cy="370.00" r="1.4" fill="#d8d8d8" stroke="#444" stroke-width="1.0"/>
<circle cx="454.10" cy="377.80" r="1.4" fill="#d8d8d8" stroke="#444" stroke-width="1.0"/>
<circle cx="465.30" cy="381.80" r="1.4" fill="#d8d8d8" stroke="#444" stroke-width="1.0"/>
<circle cx="453.20" cy="390.10" r="1.4" fill="#d8d8d8" stroke="#444" stroke-width="1.0"/>
<circle cx="453.80" cy="393.00" r="1.4" fill="#d8d8d8" stroke="#444" stroke-width="1.0"/>
<circle cx="443.80" cy="397.50" r="1.4" fill="#d8d8d8" stroke="#444" stroke-width="1.0"/>
<circle cx="454.40" cy="398.40" r="1.4" fill="#d8d8d8" stroke="#444" stroke-width="1.0"/>
<circle cx="451.80" cy="400.10" r="1.4" fill="#d8d8d8" stroke="#444" stroke-width="1.0"/>
<circle cx="440.90" cy="403.00" r="1.4" fill="#d8d8d8" stroke="#444" stroke-width="1.0"/>
<circle cx="443.50" cy="401.80" r="1.4" fill="#d8d8d8" stroke="#444" stroke-width="1.0"/>
<circle cx="443.80" cy="403.90" r="1.4" fill="#d8d8d8" stroke="#444" stroke-width="1.0"/>
<circle cx="444.00" cy="404.70" r="1.4" fill="#d8d8d8" stroke="#444" stroke-width="1.0"/>
<circle cx="504.00" cy="391.20" r="1.4" fill="#d8d8d8" stroke="#444" stroke-width="1.0"/>
<circle cx="512.80" cy="395.50" r="1.4" fill="#d8d8d8" stroke="#444" stroke-width="1.0"/>
<circle cx="493.30" cy="403.00" r="1.4" fill="#d8d8d8" stroke="#444" stroke-width="1.0"/>
<circle cx="487.00" cy="409.60" r="1.4" fill="#d8d8d8" stroke="#444" stroke-width="1.0"/>
<circle cx="509.40" cy="409.60" r="1.4" fill="#d8d8d8" stroke="#444" stroke-width="1.0"/>
<circle cx="508.50" cy="413.30" r="1.4" fill="#d8d8d8" stroke="#444" stroke-width="1.0"/>
<circle cx="457.20" cy="411.00" r="1.4" fill="#d8d8d8" stroke="#444" stroke-width="1.0"/>
<circle cx="416.00" cy="412.40" r="1.4" fill="#d8d8d8" stroke="#444" stroke-width="1.0"/>
<circle cx="430.00" cy="416.20" r="1.4" fill="#d8d8d8" stroke="#444" stroke-width="1.0"/>
<circle cx="449.50" cy="416.50" r="1.4" fill="#d8d8d8" stroke="#444" stroke-width="1.0"/>
<circle cx="460.10" cy="415.00" r="1.4" fill="#d8d8d8" stroke="#444" stroke-width="1.0"/>
<circle cx="488.20" cy="413.90" r="1.4" fill="#d8d8d8" stroke="#444" stroke-width="1.0"/>
<circle cx="486.50" cy="415.60" r="1.4" fill="#d8d8d8" stroke="#444" stroke-width="1.0"/>
<circle cx="409.40" cy="417.30" r="1.4" fill="#d8d8d8" stroke="#444" stroke-width="1.0"/>
<circle cx="419.10" cy="421.30" r="1.4" fill="#d8d8d8" stroke="#444" stroke-width="1.0"/>
<circle cx="431.10" cy="422.20" r="1.4" fill="#d8d8d8" stroke="#444" stroke-width="1.0"/>
<circle cx="446.30" cy="420.20" r="1.4" fill="#d8d8d8" stroke="#444" stroke-width="1.0"/>
<circle cx="453.20" cy="421.90" r="1.4" fill="#d8d8d8" stroke="#444" stroke-width="1.0"/>
<circle cx="483.90" cy="421.60" r="1.4" fill="#d8d8d8" stroke="#444" stroke-width="1.0"/>
<circle cx="489.90" cy="420.20" r="1.4" fill="#d8d8d8" stroke="#444" stroke-width="1.0"/>
<circle cx="473.30" cy="429.90" r="1.4" fill="#d8d8d8" stroke="#444" stroke-width="1.0"/>
<circle cx="401.60" cy="434.80" r="1.4" fill="#d8d8d8" stroke="#444" stroke-width="1.0"/>
<circle cx="432.60" cy="434.20" r="1.4" fill="#d8d8d8" stroke="#444" stroke-width="1.0"/>
<text x="459.50" y="463.20" font-size="10.5" font-weight="normal" font-style="normal" text-anchor="middle" fill="#111" >%CD69(+)</text>
<text transform="translate(381.00,374.4) rotate(-90)" font-size="10.5" text-anchor="middle" fill="#111">% IPH2101(+)</text>
</svg></body></html>
